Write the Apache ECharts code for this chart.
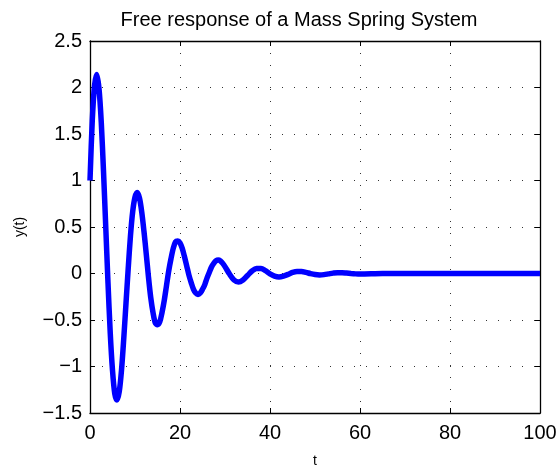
<!DOCTYPE html>
<html>
<head>
<meta charset="utf-8">
<script src="https://cdn.jsdelivr.net/npm/echarts@6/dist/echarts.min.js"></script>
<style>html,body{margin:0;padding:0;background:#fff;}#c{width:559px;height:468px;}</style>
</head>
<body>
<div id="c"></div>
<script>
// Time samples (t) and response values y(t)
const tValues = [
  0, 0.5, 1, 1.5, 2, 2.5, 3, 3.5, 4, 4.5, 5, 5.5, 6, 6.5, 7, 7.5, 8, 8.5, 9, 9.5,
  10, 10.5, 11, 11.5, 12, 12.5, 13, 13.5, 14, 14.5, 15, 15.5, 16, 16.5, 17, 17.5, 18, 18.5, 19, 19.5,
  20, 20.5, 21, 21.5, 22, 22.5, 23, 23.5, 24, 24.5, 25, 25.5, 26, 26.5, 27, 27.5, 28, 28.5, 29, 29.5,
  30, 31, 32, 33, 34, 35, 36, 37, 38, 39, 40, 41, 42, 43, 44, 45, 46, 47, 48, 49,
  50, 51, 52, 53, 54, 55, 56, 57, 58, 59, 60, 65, 70, 75, 80, 85, 90, 95, 100
];
const yValues = [
  1.00, 1.64, 2.02, 2.14, 1.99, 1.63, 1.10, 0.50, -0.10, -0.64, -1.04, -1.29, -1.36, -1.27, -1.04, -0.70, -0.32, 0.06, 0.41, 0.67,
  0.82, 0.87, 0.81, 0.66, 0.45, 0.21, -0.04, -0.26, -0.42, -0.53, -0.55, -0.52, -0.42, -0.29, -0.13, 0.03, 0.16, 0.27, 0.34, 0.35,
  0.33, 0.27, 0.18, 0.08, -0.02, -0.10, -0.17, -0.21, -0.225, -0.21, -0.17, -0.12, -0.05, 0.01, 0.07, 0.11, 0.136, 0.144, 0.134, 0.109,
  0.074, -0.006, -0.070, -0.092, -0.070, -0.022, 0.027, 0.055, 0.055, 0.030, -0.003, -0.028, -0.037, -0.028, -0.009, 0.011, 0.022, 0.022, 0.012, -0.001,
  -0.011, -0.015, -0.012, -0.004, 0.004, 0.009, 0.009, 0.005, 0.000, -0.004, -0.006, 0.000, 0.000, 0.000, 0.000, 0.000, 0.000, 0.000, 0.000
];
const xTicks = { min: 0, max: 100, interval: 20 };
const yTicks = { min: -1.5, max: 2.5, interval: 0.5 };

const data = tValues.map((t, i) => [t, yValues[i]]);
const font = 'Liberation Sans, Arial, Helvetica, sans-serif';
const fmt = v => String(v).replace('-', '\u2212');
const dotted = { show: true, lineStyle: { color: '#333', width: 1, type: [1, 11] } };
const axisLine = { show: true, onZero: false, lineStyle: { color: '#000', width: 1.3 } };
const tick = { show: true, inside: true, length: 5, lineStyle: { color: '#000', width: 1 } };

const chart = echarts.init(document.getElementById('c'), null, { renderer: 'canvas' });
chart.setOption({
  animation: false,
  backgroundColor: '#fff',
  title: {
    text: 'Free response of a Mass Spring System',
    left: 294, textAlign: 'center', top: 5,
    textStyle: { fontFamily: font, fontSize: 20, fontWeight: 'normal', color: '#000' }
  },
  grid: { left: 90, right: 19, top: 41, bottom: 55, containLabel: false, outerBoundsMode: 'none' },
  xAxis: [
    {
      type: 'value', min: xTicks.min, max: xTicks.max, interval: xTicks.interval,
      name: 't', nameLocation: 'middle', nameGap: 41,
      nameTextStyle: { fontFamily: font, fontSize: 14, color: '#000', verticalAlign: 'top' },
      axisLine: axisLine, axisTick: tick,
      axisLabel: { fontFamily: font, fontSize: 20, color: '#000', margin: 10 },
      splitLine: dotted
    },
    {
      type: 'value', position: 'top', min: xTicks.min, max: xTicks.max, interval: xTicks.interval,
      axisLine: axisLine, axisTick: tick, axisLabel: { show: false }, splitLine: { show: false }
    }
  ],
  yAxis: [
    {
      type: 'value', min: yTicks.min, max: yTicks.max, interval: yTicks.interval,
      name: 'y(t)', nameLocation: 'middle', nameGap: 63,
      nameTextStyle: { fontFamily: font, fontSize: 14, color: '#000' },
      axisLine: axisLine, axisTick: tick,
      axisLabel: { fontFamily: font, fontSize: 20, color: '#000', margin: 8, formatter: fmt },
      splitLine: dotted
    },
    {
      type: 'value', position: 'right', min: yTicks.min, max: yTicks.max, interval: yTicks.interval,
      axisLine: axisLine, axisTick: tick, axisLabel: { show: false }, splitLine: { show: false }
    }
  ],
  series: [
    {
      type: 'line', xAxisIndex: 0, yAxisIndex: 0, data: data,
      smooth: 0.3, symbol: 'none',
      lineStyle: { color: '#0000ff', width: 5.5 }
    }
  ]
});
</script>
</body>
</html>
